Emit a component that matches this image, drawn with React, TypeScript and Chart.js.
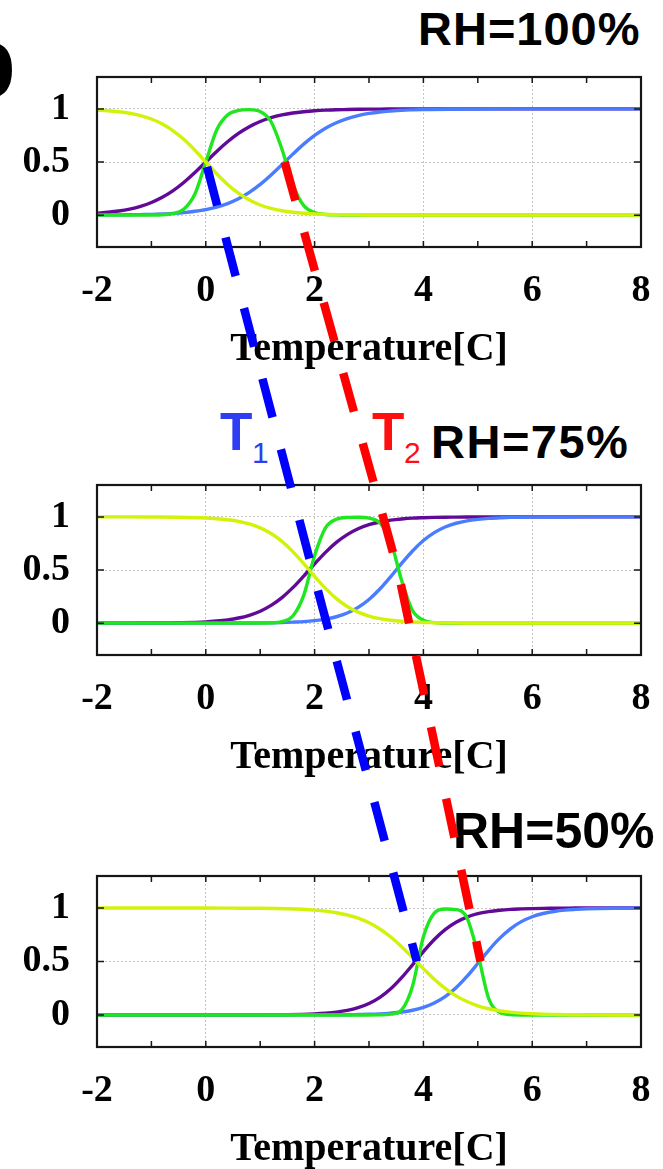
import React, { useEffect, useRef } from 'react';
import { Chart, registerables } from 'chart.js';

Chart.register(...registerables);

// ---------------- data ----------------
const X_MIN = -2;
const X_MAX = 8;
const Y_MIN = -0.3;
const Y_MAX = 1.3;
const Y_TICKS = [0, 0.5, 1];
const PANEL_LABELS = ['RH=100%', 'RH=75%', 'RH=50%'];
const AXIS_TITLE = 'Temperature[C]';

// RH = 100%
const P1_T = [-2, -1.8, -1.6, -1.4, -1.2, -1, -0.8, -0.6, -0.4, -0.2, 0, 0.2, 0.4, 0.6, 0.8, 1, 1.2, 1.4, 1.6, 1.8, 2, 2.2, 2.4, 2.6, 2.8, 3, 3.2, 3.4, 3.6, 3.8, 4, 5, 6, 7, 8];
const P1_YELLOW = [0.989, 0.983, 0.973, 0.959, 0.937, 0.905, 0.858, 0.794, 0.711, 0.611, 0.5, 0.389, 0.289, 0.206, 0.142, 0.095, 0.063, 0.041, 0.027, 0.017, 0.011, 0.007, 0.005, 0.003, 0.002, 0.001, 0, 0, 0, 0, 0, 0, 0, 0, 0];
const P1_PURPLE = [0.018, 0.027, 0.039, 0.057, 0.083, 0.119, 0.168, 0.231, 0.31, 0.401, 0.5, 0.599, 0.69, 0.769, 0.832, 0.881, 0.917, 0.943, 0.961, 0.973, 0.982, 0.988, 0.992, 0.994, 0.996, 0.998, 0.998, 0.999, 1, 1, 1, 1, 1, 1, 1];
const P1_GREEN = [0, 0, 0, 0, 0, 0.001, 0.004, 0.015, 0.057, 0.198, 0.5, 0.802, 0.943, 0.985, 0.993, 0.975, 0.879, 0.62, 0.287, 0.09, 0.024, 0.006, 0.002, 0, 0, 0, 0, 0, 0, 0, 0, 0, 0, 0, 0];
const P1_BLUE = [0.001, 0.002, 0.002, 0.003, 0.005, 0.007, 0.011, 0.016, 0.024, 0.036, 0.052, 0.076, 0.109, 0.154, 0.214, 0.289, 0.378, 0.475, 0.574, 0.668, 0.75, 0.818, 0.87, 0.909, 0.937, 0.957, 0.971, 0.98, 0.987, 0.991, 0.994, 0.999, 1, 1, 1];

// RH = 75%
const P2_T = [-2, -1.5, -1, -0.5, 0, 0.2, 0.4, 0.6, 0.8, 1, 1.2, 1.4, 1.6, 1.8, 2, 2.2, 2.4, 2.6, 2.8, 3, 3.2, 3.4, 3.6, 3.8, 4, 4.2, 4.4, 4.6, 4.8, 5, 5.2, 5.4, 5.6, 6, 6.5, 7, 8];
const P2_YELLOW = [1, 1, 0.999, 0.997, 0.99, 0.983, 0.973, 0.958, 0.933, 0.897, 0.843, 0.769, 0.673, 0.56, 0.44, 0.327, 0.231, 0.157, 0.103, 0.067, 0.042, 0.027, 0.017, 0.01, 0.006, 0.004, 0.002, 0.002, 0.001, 0, 0, 0, 0, 0, 0, 0, 0];
const P2_PURPLE = [0, 0, 0.001, 0.004, 0.012, 0.02, 0.031, 0.048, 0.074, 0.112, 0.167, 0.24, 0.334, 0.443, 0.557, 0.666, 0.76, 0.833, 0.888, 0.926, 0.952, 0.969, 0.98, 0.988, 0.992, 0.995, 0.997, 0.998, 0.999, 1, 1, 1, 1, 1, 1, 1, 1];
const P2_GREEN = [0, 0, 0, 0, 0, 0, 0, 0, 0, 0.001, 0.003, 0.014, 0.067, 0.261, 0.636, 0.897, 0.977, 0.995, 0.997, 0.988, 0.943, 0.769, 0.401, 0.119, 0.027, 0.005, 0.001, 0, 0, 0, 0, 0, 0, 0, 0, 0, 0];
const P2_BLUE = [0, 0, 0, 0, 0, 0, 0, 0.001, 0.001, 0.002, 0.003, 0.005, 0.009, 0.014, 0.023, 0.037, 0.06, 0.095, 0.148, 0.223, 0.321, 0.438, 0.562, 0.679, 0.777, 0.852, 0.905, 0.94, 0.963, 0.977, 0.986, 0.991, 0.995, 0.998, 0.999, 1, 1];

// RH = 50%
const P3_T = [-2, -1, 0, 0.5, 1, 1.5, 2, 2.2, 2.4, 2.6, 2.8, 3, 3.2, 3.4, 3.6, 3.8, 4, 4.2, 4.4, 4.6, 4.8, 5, 5.2, 5.4, 5.6, 5.8, 6, 6.2, 6.4, 6.6, 6.8, 7, 7.5, 8];
const P3_YELLOW = [1, 1, 1, 0.999, 0.998, 0.993, 0.981, 0.971, 0.956, 0.935, 0.905, 0.862, 0.804, 0.729, 0.639, 0.537, 0.433, 0.334, 0.248, 0.178, 0.125, 0.085, 0.058, 0.039, 0.026, 0.017, 0.011, 0.007, 0.005, 0.003, 0.002, 0.001, 0, 0];
const P3_PURPLE = [0, 0, 0, 0, 0.001, 0.003, 0.01, 0.016, 0.026, 0.042, 0.068, 0.107, 0.165, 0.245, 0.349, 0.469, 0.593, 0.706, 0.798, 0.867, 0.915, 0.947, 0.967, 0.98, 0.988, 0.992, 0.995, 0.997, 0.998, 0.999, 1, 1, 1, 1];
const P3_GREEN = [0, 0, 0, 0, 0, 0, 0, 0, 0, 0, 0, 0, 0.001, 0.007, 0.047, 0.269, 0.731, 0.953, 0.991, 0.986, 0.909, 0.574, 0.154, 0.024, 0.003, 0, 0, 0, 0, 0, 0, 0, 0, 0];
const P3_BLUE = [0, 0, 0, 0, 0, 0, 0.001, 0.001, 0.001, 0.002, 0.004, 0.006, 0.01, 0.017, 0.027, 0.044, 0.071, 0.112, 0.171, 0.254, 0.36, 0.481, 0.605, 0.716, 0.806, 0.873, 0.919, 0.949, 0.968, 0.981, 0.988, 0.993, 0.998, 0.999];

// transition temperatures per panel (RH=100, 75, 50)
const T1 = [0, 1.96, 3.88];
const T2 = [1.45, 3.53, 5.05];
const CROSS_LEVEL = 0.5;

// ---------------- styles / layout ----------------
const COLORS = { yellow: '#d3f20a', purple: '#620a98', green: '#20e620', blue: '#4a7cff' };
const W = 663;
const H = 1169;
const CANVAS_TOPS = [73, 481, 872];
const PLOT_HEIGHTS = [170, 170, 171];
const PAD_TOP = 4;
const X_AXIS_H = 130;
const Y_AXIS_W = 97;
const PAD_RIGHT = 22;
const SERIF = '"Liberation Serif", "Times New Roman", serif';
const SANS = '"Liberation Sans", Arial, sans-serif';

const PANELS = [
  { t: P1_T, yellow: P1_YELLOW, purple: P1_PURPLE, green: P1_GREEN, blue: P1_BLUE },
  { t: P2_T, yellow: P2_YELLOW, purple: P2_PURPLE, green: P2_GREEN, blue: P2_BLUE },
  { t: P3_T, yellow: P3_YELLOW, purple: P3_PURPLE, green: P3_GREEN, blue: P3_BLUE },
];

const framePlugin = {
  id: 'gnuFrame',
  afterDatasetsDraw(chart: any) {
    const { ctx, chartArea: a, scales } = chart;
    ctx.save();
    ctx.strokeStyle = '#161616';
    ctx.lineWidth = 1.5;
    ctx.beginPath();
    scales.x.ticks.forEach((t: any) => {
      const px = scales.x.getPixelForValue(t.value);
      ctx.moveTo(px, a.bottom);
      ctx.lineTo(px, a.bottom - 6);
      ctx.moveTo(px, a.top);
      ctx.lineTo(px, a.top + 6);
    });
    scales.y.ticks.forEach((t: any) => {
      const py = scales.y.getPixelForValue(t.value);
      ctx.moveTo(a.left, py);
      ctx.lineTo(a.left + 7, py);
      ctx.moveTo(a.right, py);
      ctx.lineTo(a.right - 7, py);
    });
    ctx.stroke();
    ctx.lineWidth = 2.2;
    ctx.strokeRect(a.left, a.top, a.right - a.left, a.bottom - a.top);
    ctx.restore();
  },
};

function series(t: number[], v: number[], color: string) {
  return {
    data: t.map((x, i) => ({ x, y: v[i] })),
    borderColor: color,
    borderWidth: 3.4,
    pointRadius: 0,
    fill: false,
    cubicInterpolationMode: 'monotone' as const,
  };
}

function makeConfig(p: any): any {
  return {
    type: 'line',
    data: {
      datasets: [
        series(p.t, p.yellow, COLORS.yellow),
        series(p.t, p.green, COLORS.green),
        series(p.t, p.blue, COLORS.blue),
        series(p.t, p.purple, COLORS.purple),
      ],
    },
    options: {
      responsive: false,
      animation: false,
      events: [],
      layout: { padding: { top: PAD_TOP, left: 0, right: PAD_RIGHT, bottom: 0 } },
      plugins: { legend: { display: false }, tooltip: { enabled: false } },
      scales: {
        x: {
          type: 'linear',
          min: X_MIN,
          max: X_MAX,
          ticks: {
            stepSize: 1,
            autoSkip: false,
            maxRotation: 0,
            minRotation: 0,
            padding: 21,
            color: '#000',
            font: { family: SERIF, size: 38, weight: 'bold' },
            callback: (v: number) => (v % 2 === 0 ? String(v) : ''),
          },
          grid: {
            drawTicks: false,
            lineWidth: 1,
            color: (c: any) => {
              const v = c.tick ? c.tick.value : NaN;
              return v % 2 === 0 && v !== X_MIN && v !== X_MAX ? '#c4c4c4' : 'rgba(0,0,0,0)';
            },
          },
          border: { display: false, dash: [2, 2] },
          title: {
            display: true,
            text: AXIS_TITLE,
            color: '#000',
            font: { family: SERIF, size: 40, weight: 'bold' },
            padding: { top: 0, bottom: 3 },
          },
          afterFit: (s: any) => {
            s.height = X_AXIS_H;
            s.paddingLeft = 0;
            s.paddingRight = 0;
          },
        },
        y: {
          type: 'linear',
          min: Y_MIN,
          max: Y_MAX,
          afterBuildTicks: (s: any) => {
            s.ticks = Y_TICKS.map((v) => ({ value: v }));
          },
          ticks: {
            padding: 27,
            color: '#000',
            font: { family: SERIF, size: 38, weight: 'bold' },
            callback: (v: number) => String(v),
          },
          grid: { drawTicks: false, lineWidth: 1, color: '#c4c4c4' },
          border: { display: false, dash: [2, 2] },
          afterFit: (s: any) => {
            s.width = Y_AXIS_W;
            s.paddingTop = 0;
            s.paddingBottom = 0;
          },
        },
      },
    },
    plugins: [framePlugin],
  };
}

function drawGuide(ctx: CanvasRenderingContext2D, pts: { x: number; y: number }[], color: string, offset: number) {
  ctx.save();
  ctx.strokeStyle = color;
  ctx.lineWidth = 8.5;
  ctx.lineCap = 'butt';
  ctx.lineJoin = 'miter';
  ctx.setLineDash([40, 33]);
  ctx.lineDashOffset = offset;
  ctx.beginPath();
  pts.forEach((p, i) => (i ? ctx.lineTo(p.x, p.y) : ctx.moveTo(p.x, p.y)));
  ctx.stroke();
  ctx.restore();
}

const textBase: React.CSSProperties = {
  position: 'absolute',
  whiteSpace: 'nowrap',
  fontFamily: SANS,
  margin: 0,
  padding: 0,
};

export default function App() {
  const r0 = useRef<HTMLCanvasElement>(null);
  const r1 = useRef<HTMLCanvasElement>(null);
  const r2 = useRef<HTMLCanvasElement>(null);
  const overlayRef = useRef<HTMLCanvasElement>(null);

  useEffect(() => {
    const refs = [r0, r1, r2];
    const charts = PANELS.map((p, i) => new Chart(refs[i].current as HTMLCanvasElement, makeConfig(p)));
    const oc = overlayRef.current as HTMLCanvasElement;
    const octx = oc.getContext('2d') as CanvasRenderingContext2D;
    octx.clearRect(0, 0, W, H);
    const pts = (temps: number[]) =>
      temps.map((t, i) => ({
        x: charts[i].scales.x.getPixelForValue(t),
        y: charts[i].scales.y.getPixelForValue(CROSS_LEVEL) + CANVAS_TOPS[i],
      }));
    drawGuide(octx, pts(T1), '#0000ff', 68);
    drawGuide(octx, pts(T2), '#ff0000', 0);
    return () => {
      charts.forEach((c) => c.destroy());
      octx.clearRect(0, 0, W, H);
    };
  }, []);

  const canvasRefs = [r0, r1, r2];

  return (
    <div style={{ position: 'absolute', left: 0, top: 0, width: W, height: H, background: '#fff', overflow: 'hidden' }}>
      {/* cropped panel letter */}
      <div style={{ ...textBase, left: -45, top: 12, fontSize: 100, lineHeight: '100px', fontWeight: 'bold', color: '#000' }}>b</div>

      {canvasRefs.map((r, i) => (
        <div key={i} style={{ position: 'absolute', left: 0, top: CANVAS_TOPS[i], width: W, height: PAD_TOP + PLOT_HEIGHTS[i] + X_AXIS_H }}>
          <canvas ref={r} width={W} height={PAD_TOP + PLOT_HEIGHTS[i] + X_AXIS_H} style={{ display: 'block' }} />
        </div>
      ))}

      <div style={{ ...textBase, left: 418, top: 5, fontSize: 47, lineHeight: '47px', fontWeight: 'bold', letterSpacing: 1, color: '#000' }}>{PANEL_LABELS[0]}</div>
      <div style={{ ...textBase, left: 431, top: 418, fontSize: 47, lineHeight: '47px', fontWeight: 'bold', letterSpacing: 1.5, color: '#000' }}>{PANEL_LABELS[1]}</div>
      <div style={{ ...textBase, left: 453, top: 806, fontSize: 50, lineHeight: '50px', fontWeight: 'bold', color: '#000' }}>{PANEL_LABELS[2]}</div>

      <div style={{ ...textBase, left: 220, top: 405, fontSize: 53, lineHeight: '53px', fontWeight: 'bold', color: '#2e3cf2' }}>T</div>
      <div style={{ ...textBase, left: 252, top: 438, fontSize: 30, lineHeight: '30px', color: '#2e3cf2' }}>1</div>
      <div style={{ ...textBase, left: 372, top: 405, fontSize: 53, lineHeight: '53px', fontWeight: 'bold', color: '#ff1010' }}>T</div>
      <div style={{ ...textBase, left: 404, top: 438, fontSize: 30, lineHeight: '30px', color: '#ff1010' }}>2</div>

      <canvas ref={overlayRef} width={W} height={H} style={{ position: 'absolute', left: 0, top: 0, pointerEvents: 'none' }} />
    </div>
  );
}
